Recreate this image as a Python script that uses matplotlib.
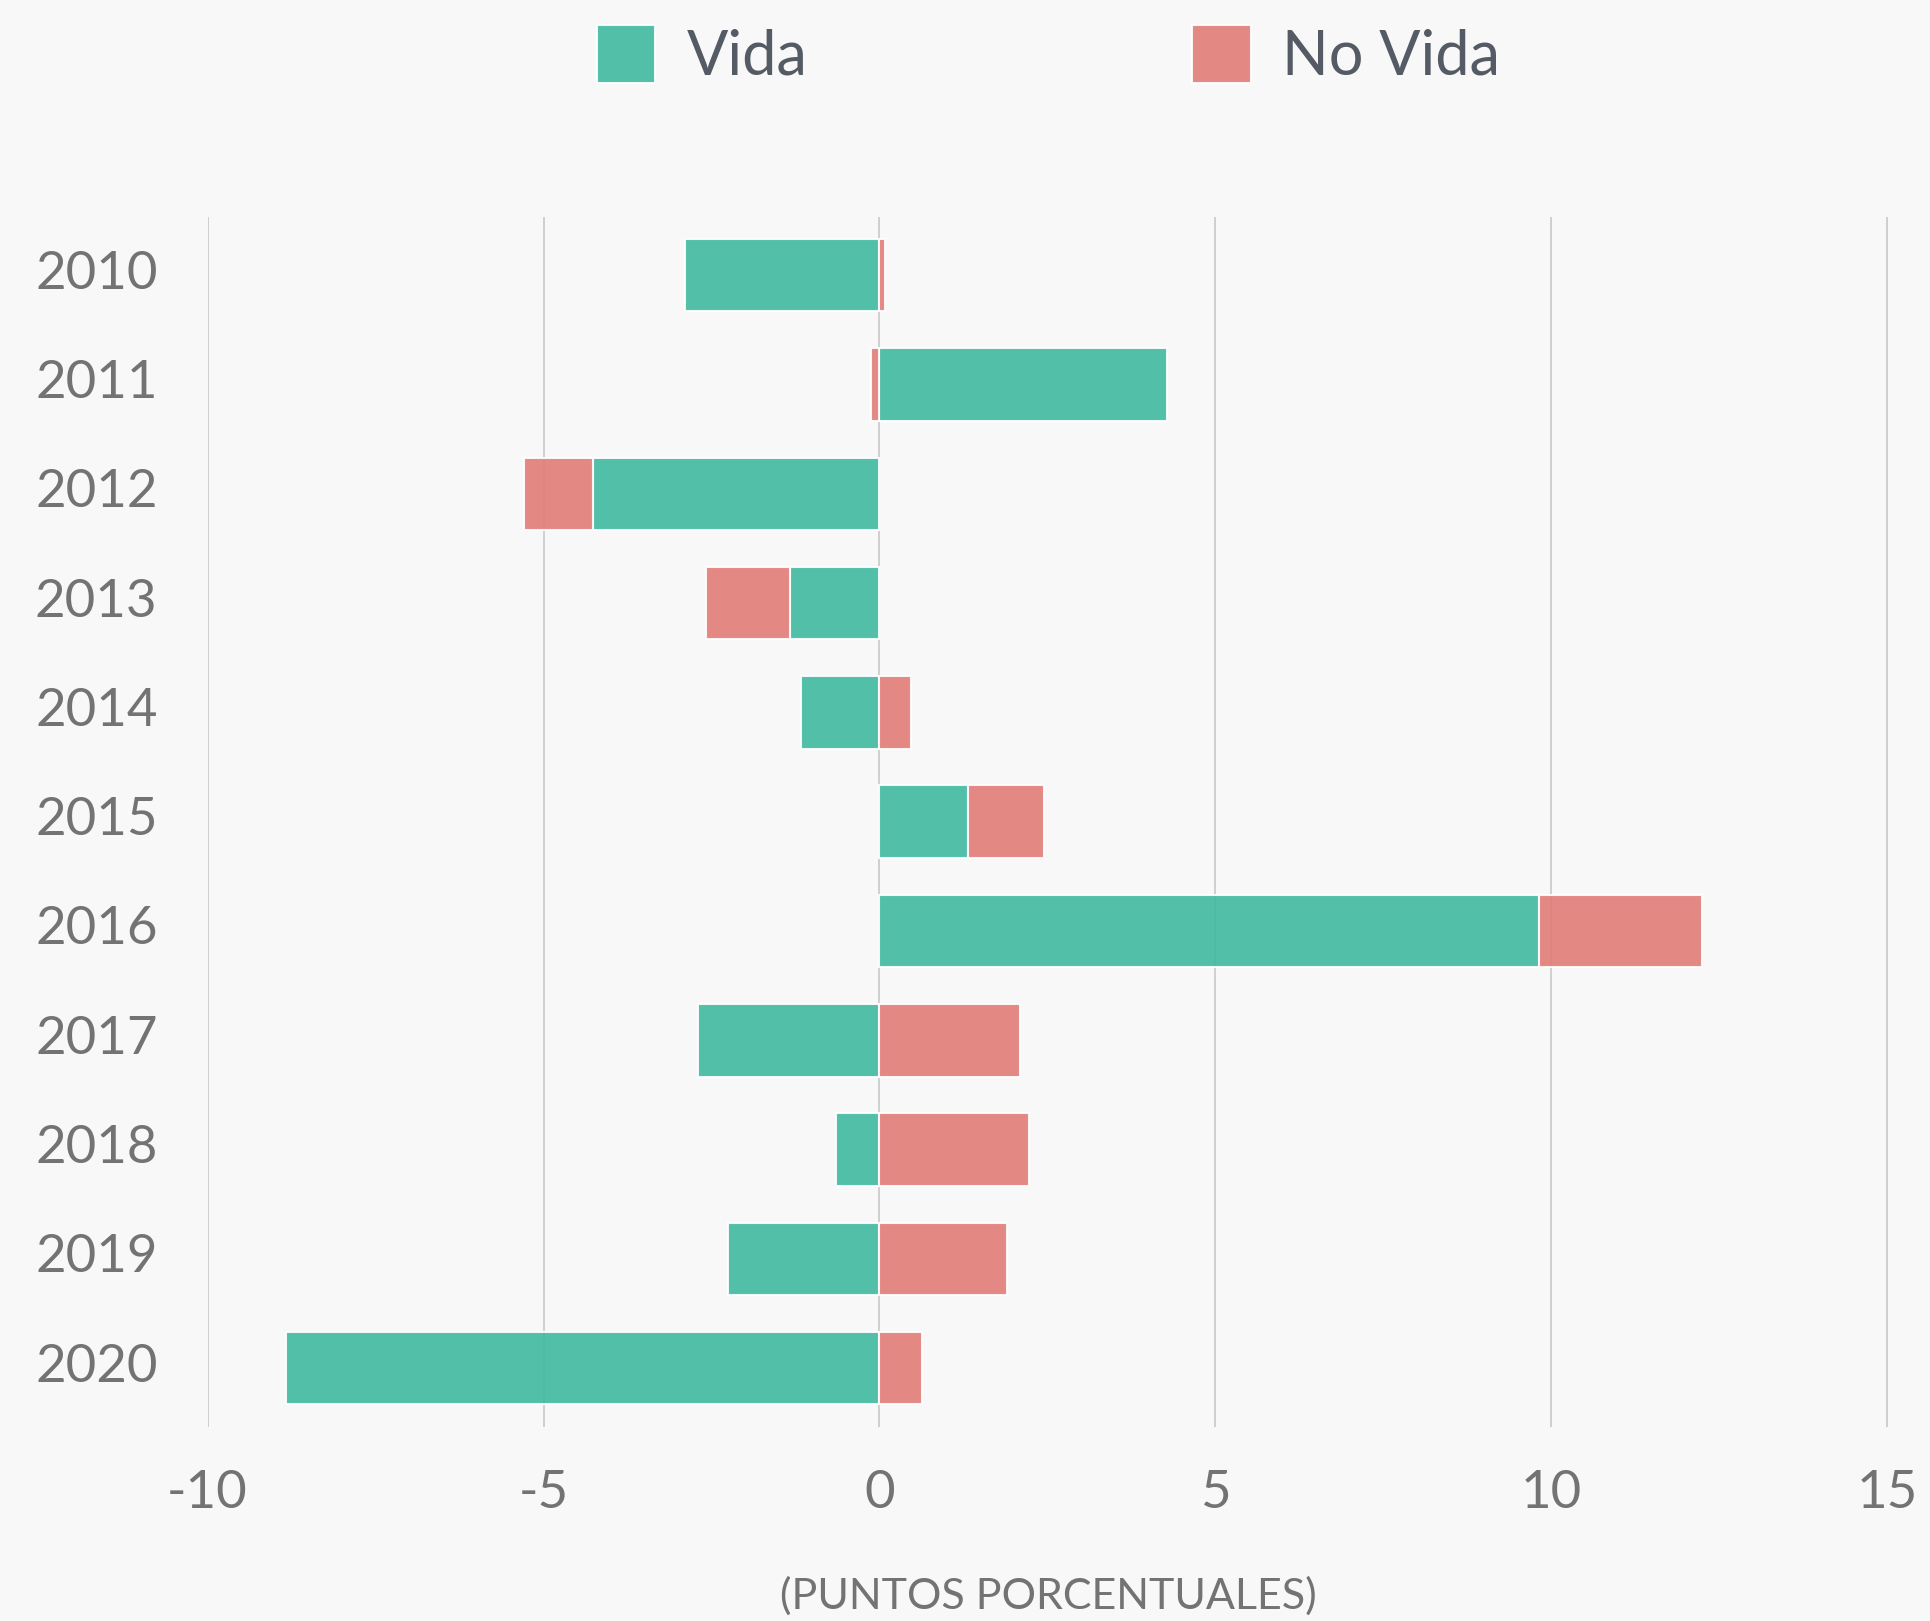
import numpy as np
import matplotlib
matplotlib.use("Agg")
import matplotlib.pyplot as plt
import matplotlib.transforms as mtransforms
from matplotlib.patches import Patch

years = ["2010", "2011", "2012", "2013", "2014", "2015", "2016", "2017", "2018", "2019", "2020"]
vida = [-2.90, 4.28, -4.27, -1.33, -1.16, 1.32, 9.82, -2.70, -0.64, -2.26, -8.83]
no_vida = [0.08, -0.12, -1.02, -1.25, 0.47, 1.13, 2.43, 2.09, 2.22, 1.90, 0.63]
xticks = [-10, -5, 0, 5, 10, 15]
xtick_labels = ["-10", "-5", "0", "5", "10", "15"]

BG = "#f8f8f8"
TEAL = "#40b99f"
RED = "#e17c76"
TICK_C = "#737373"
LEG_C = "#555b65"

plt.rcParams["font.family"] = ["Lato", "DejaVu Sans"]

fig = plt.figure(figsize=(19.31, 16.21), dpi=100, facecolor=BG)
ax_l, ax_b, ax_r, ax_t = 0.1075, 0.1199, 0.978, 0.8663
ax = fig.add_axes([ax_l, ax_b, ax_r - ax_l, ax_t - ax_b], facecolor=BG)

y = np.arange(len(years))
v = np.array(vida)
nv = np.array(no_vida)
left_nv = np.where(np.sign(v) == np.sign(nv), v, 0.0)

ax.barh(y, v, height=0.663, color=TEAL, alpha=0.9, edgecolor="white", linewidth=1.5, zorder=3)
ax.barh(y, nv, left=left_nv, height=0.663, color=RED, alpha=0.9, edgecolor="white", linewidth=1.5, zorder=3)

ax.set_xlim(-10, 15.02)
ax.set_ylim(10.535, -0.535)
ax.set_xticks(xticks)
ax.set_xticklabels(xtick_labels)
ax.set_yticks(y)
ax.set_yticklabels(years)
ax.grid(axis="x", color="#c8c8c8", linewidth=1.2, zorder=0)
ax.grid(axis="y", visible=False)
ax.set_axisbelow(True)
for s in ax.spines.values():
    s.set_visible(False)
ax.tick_params(axis="both", length=0, labelsize=38, labelcolor=TICK_C)
ax.tick_params(axis="y", pad=36)
ax.tick_params(axis="x", pad=31)

shift = mtransforms.ScaledTranslation(0, 4 / 72, fig.dpi_scale_trans)
for lab in ax.get_yticklabels():
    lab.set_transform(lab.get_transform() + shift)

ax.set_xlabel("(PUNTOS PORCENTUALES)", fontsize=31, color=TICK_C)
label_fig_y = 1 - 1596 / 1621
ax.xaxis.set_label_coords(0.5, (label_fig_y - ax_b) / (ax_t - ax_b))
ax.xaxis.label.set_va("center")

handles = [Patch(facecolor=TEAL, alpha=0.9, edgecolor="white", linewidth=1.5, label="Vida"),
           Patch(facecolor=RED, alpha=0.9, edgecolor="white", linewidth=1.5, label="No Vida")]
leg = fig.legend(handles=handles, loc="center", bbox_to_anchor=(0.543, 0.966), ncol=2,
                 frameon=False, fontsize=44, handlelength=0.95, handleheight=1.08,
                 handletextpad=0.52, columnspacing=6.3)
for t in leg.get_texts():
    t.set_color(LEG_C)

fig.savefig("out.png", dpi=100, facecolor=BG)
